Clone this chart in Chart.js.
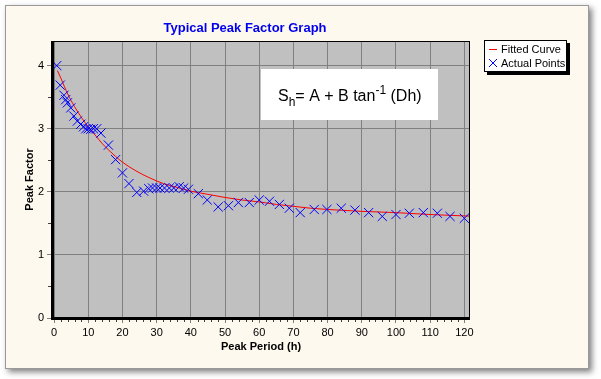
<!DOCTYPE html>
<html><head><meta charset="utf-8">
<script src="https://cdn.jsdelivr.net/npm/chart.js@4.4.0/dist/chart.umd.min.js"></script>
<style>
html,body{margin:0;padding:0;background:#fff;width:601px;height:379px;overflow:hidden;}
#frame{position:absolute;left:5px;top:5px;width:582px;height:362px;background:#fdf9ee;border:1px solid #9a9a9a;box-shadow:3px 3px 6px rgba(0,0,0,0.5);}
#wrap{position:absolute;left:0;top:0;width:601px;height:379px;}
</style></head><body>
<div id="frame"></div>
<div id="wrap"><canvas id="c" width="601" height="379"></canvas></div>
<script>
const chartTitle = 'Typical Peak Factor Graph';
const xTitle = 'Peak Period (h)';
const yTitle = 'Peak Factor';
const seriesNames = ['Fitted Curve', 'Actual Points'];

const pointX = [0.8, 1.8, 2.9, 3.4, 3.9, 4.9, 5.8, 6.8, 7.8, 8.6, 9.3, 10.0, 10.7, 11.5, 12.5, 13.7, 15.9, 18.0, 20.0, 21.9, 24.2, 26.2, 27.7, 28.8, 30.0, 31.0, 32.3, 33.7, 35.0, 36.6, 37.9, 39.3, 42.2, 44.8, 48.0, 51.0, 53.9, 57.1, 60.0, 63.0, 65.9, 68.8, 72.0, 76.1, 79.8, 84.0, 88.0, 92.0, 96.0, 100.0, 103.9, 108.0, 112.1, 115.8, 120.0];
const pointY = [4.0, 3.69, 3.53, 3.46, 3.41, 3.33, 3.20, 3.12, 3.07, 3.03, 3.0, 3.0, 2.99, 3.0, 3.0, 2.93, 2.74, 2.51, 2.30, 2.13, 1.99, 2.01, 2.05, 2.06, 2.06, 2.06, 2.06, 2.06, 2.06, 2.08, 2.06, 2.04, 1.97, 1.87, 1.76, 1.78, 1.83, 1.83, 1.87, 1.85, 1.80, 1.74, 1.67, 1.72, 1.72, 1.74, 1.71, 1.67, 1.61, 1.64, 1.66, 1.67, 1.66, 1.61, 1.58];

const curveX = [1, 2, 4, 6, 8, 10, 12, 14, 16, 18, 20, 24, 28, 32, 36, 40, 45, 50, 55, 60, 65, 70, 75, 80, 90, 100, 110, 121.5];
const curveY = [3.92, 3.80, 3.55, 3.35, 3.18, 3.03, 2.90, 2.77, 2.66, 2.56, 2.47, 2.33, 2.22, 2.13, 2.07, 2.01, 1.96, 1.91, 1.87, 1.84, 1.80, 1.77, 1.74, 1.72, 1.69, 1.67, 1.64, 1.615];

const xTicks = [0, 10, 20, 30, 40, 50, 60, 70, 80, 90, 100, 110, 120];
const yTicks = [0, 1, 2, 3, 4];
const xMinor = [2,4,6,8,12,14,16,18,22,24,26,28,32,34,36,38,42,44,46,48,52,54,56,58,62,64,66,68,72,74,76,78,82,84,86,88,92,94,96,98,102,104,106,108,112,114,116,118];
const yMinor = [0.5, 1.5, 2.5, 3.5];

const FONT = '"Liberation Sans", Arial, sans-serif';

const deco = {
  id: 'deco',
  beforeDraw(chart) {
    const {ctx, chartArea: a} = chart;
    ctx.save();
    ctx.fillStyle = '#c0c0c0';
    ctx.fillRect(a.left, a.top, a.right - a.left, a.bottom - a.top);
    ctx.restore();
  },
  afterDraw(chart) {
    const {ctx, chartArea: a} = chart;
    const xs = chart.scales.x, ys = chart.scales.y;
    ctx.save();
    // minor ticks
    ctx.strokeStyle = '#404040';
    ctx.lineWidth = 1;
    ctx.beginPath();
    xMinor.forEach(v => { const p = Math.round(xs.getPixelForValue(v)) + 0.5; ctx.moveTo(p, a.bottom + 1); ctx.lineTo(p, a.bottom + 4); });
    yMinor.forEach(v => { const p = Math.round(ys.getPixelForValue(v)) + 0.5; ctx.moveTo(a.left - 4, p); ctx.lineTo(a.left, p); });
    ctx.stroke();
    // plot border
    ctx.strokeStyle = '#000';
    ctx.strokeRect(a.left + 0.5, a.top + 0.5, a.right - a.left - 1, a.bottom - a.top);
    ctx.fillStyle = '#000';
    ctx.fillRect(a.left - 1, a.top, 3, a.bottom - a.top + 2);
    ctx.fillRect(a.left - 1, a.bottom - 1, a.right - a.left + 1, 3);

    // equation box
    ctx.fillStyle = '#fff';
    ctx.fillRect(261, 69, 177, 51);
    ctx.fillStyle = '#000';
    ctx.textBaseline = 'alphabetic';
    ctx.textAlign = 'left';
    let x = 278, base = 101;
    const big = '16px ' + FONT, small = '12px ' + FONT;
    ctx.font = big; ctx.fillText('S', x, base); x += ctx.measureText('S').width;
    ctx.font = small; ctx.fillText('h', x, base + 5); x += ctx.measureText('h').width;
    ctx.font = big; const mid = '= A + B tan'; ctx.fillText(mid, x, base); x += ctx.measureText(mid).width;
    ctx.font = small; ctx.fillText('-1', x, base - 7); x += ctx.measureText('-1').width;
    ctx.font = big; ctx.fillText(' (Dh)', x, base);

    // title
    ctx.font = 'bold 13px ' + FONT;
    ctx.fillStyle = '#0000ee';
    ctx.textAlign = 'center';
    ctx.fillText(chartTitle, 245, 32);

    // axis titles
    ctx.fillStyle = '#000';
    ctx.font = 'bold 11px ' + FONT;
    ctx.textBaseline = 'middle';
    ctx.fillText(xTitle, (a.left + a.right) / 2, 347);
    ctx.save();
    ctx.translate(30, (a.top + a.bottom) / 2);
    ctx.rotate(-Math.PI / 2);
    ctx.fillText(yTitle, 0, 0);
    ctx.restore();

    // legend
    const lx = 484, ly = 40, lw = 83, lh = 32;
    ctx.fillStyle = '#000';
    ctx.fillRect(lx + 3, ly + 3, lw, lh);
    ctx.fillStyle = '#fff';
    ctx.fillRect(lx, ly, lw, lh);
    ctx.strokeStyle = '#000';
    ctx.lineWidth = 1;
    ctx.strokeRect(lx + 0.5, ly + 0.5, lw - 1, lh - 1);
    ctx.strokeStyle = '#ff0000';
    ctx.beginPath(); ctx.moveTo(489, 49.5); ctx.lineTo(497, 49.5); ctx.stroke();
    ctx.strokeStyle = '#0000ff';
    ctx.beginPath(); ctx.moveTo(489, 59); ctx.lineTo(497, 67); ctx.moveTo(497, 59); ctx.lineTo(489, 67); ctx.stroke();
    ctx.fillStyle = '#000';
    ctx.font = '11px ' + FONT;
    ctx.textAlign = 'left';
    ctx.textBaseline = 'middle';
    ctx.fillText(seriesNames[0], 501, 49.5);
    ctx.fillText(seriesNames[1], 501, 63.5);
    ctx.restore();
  }
};

new Chart(document.getElementById('c'), {
  type: 'scatter',
  data: {
    datasets: [
      {
        label: seriesNames[0],
        data: curveX.map((v, i) => ({x: v, y: curveY[i]})),
        showLine: true,
        borderColor: '#ff0000',
        borderWidth: 1,
        pointRadius: 0,
        tension: 0.3,
        cubicInterpolationMode: 'monotone',
        order: 2
      },
      {
        label: seriesNames[1],
        data: pointX.map((v, i) => ({x: v, y: pointY[i]})),
        showLine: false,
        pointStyle: 'crossRot',
        pointRadius: 6.5,
        borderColor: '#0000ff',
        backgroundColor: '#0000ff',
        pointBorderWidth: 1,
        order: 1
      }
    ]
  },
  options: {
    responsive: false,
    animation: false,
    events: [],
    layout: {padding: {left: 0, top: 41, right: 131, bottom: 0}},
    plugins: {legend: {display: false}, title: {display: false}, tooltip: {enabled: false}},
    scales: {
      x: {
        type: 'linear',
        min: -0.6, max: 121.65,
        afterFit(s) { s.height = 61; },
        afterBuildTicks(s) { s.ticks = xTicks.map(v => ({value: v})); },
        grid: {color: '#808080', borderDash: [4, 3], tickLength: 5, tickColor: '#808080', drawOnChartArea: true},
        border: {display: false},
        ticks: {color: '#000', font: {family: FONT, size: 11}, padding: 3, maxRotation: 0, autoSkip: false}
      },
      y: {
        type: 'linear',
        min: 0, max: 4.39,
        afterFit(s) { s.width = 52; },
        afterBuildTicks(s) { s.ticks = yTicks.map(v => ({value: v})); },
        grid: {color: '#808080', borderDash: [4, 3], tickLength: 5, tickColor: '#808080'},
        border: {display: false},
        ticks: {color: '#000', font: {family: FONT, size: 11}, padding: 3}
      }
    }
  },
  plugins: [deco]
});
</script>
</body></html>
